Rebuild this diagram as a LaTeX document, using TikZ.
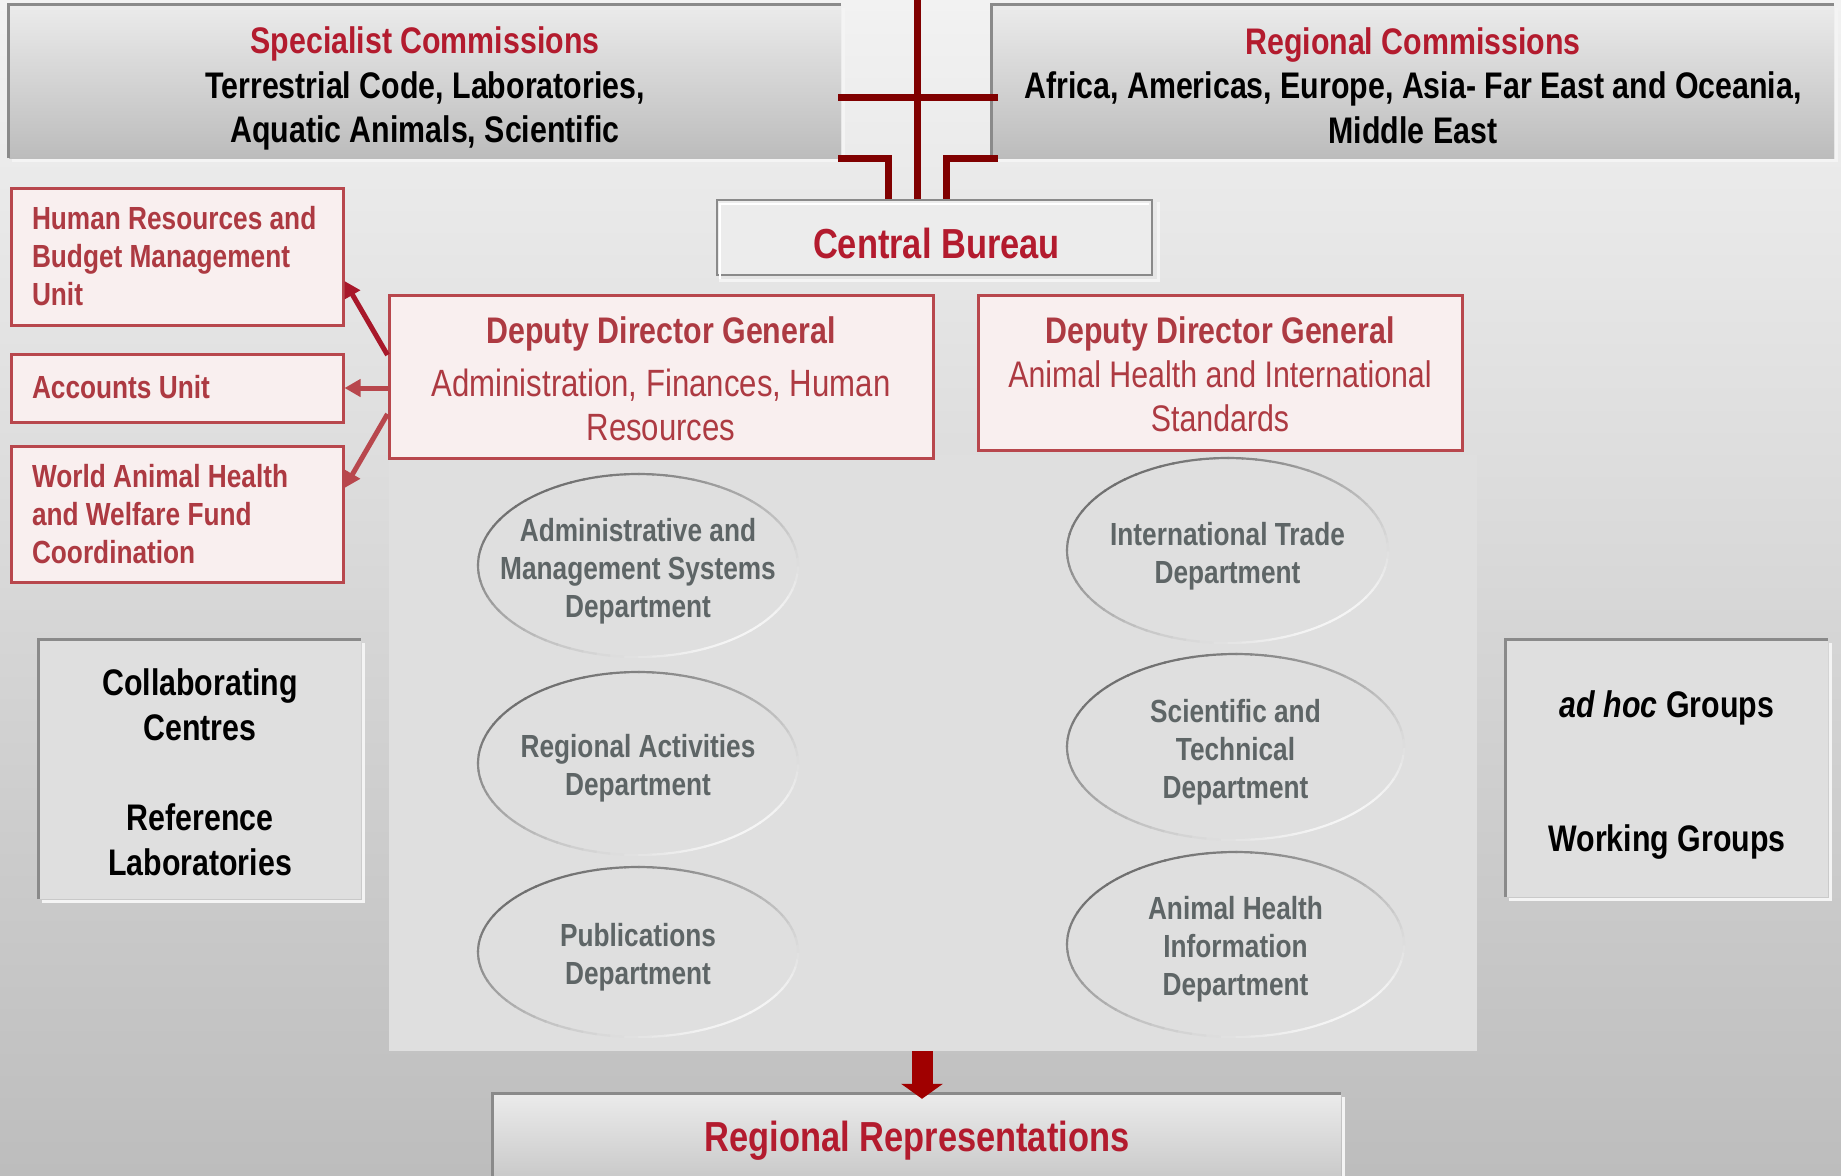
\documentclass[tikz,border=0pt]{standalone}
\usepackage{fontspec}
\setmainfont{Liberation Sans}[FakeStretch=0.82]
\usetikzlibrary{arrows.meta,shapes.geometric}
\definecolor{bgtop}{HTML}{F2F2F2}
\definecolor{bgbot}{HTML}{BDBDBD}
\definecolor{boxtop}{HTML}{EBEBEB}
\definecolor{boxbot}{HTML}{BCBCBC}
\definecolor{crimson}{HTML}{B31B2E}
\definecolor{crossred}{HTML}{800000}
\definecolor{boxred}{HTML}{B8474D}
\definecolor{boxfill}{HTML}{F9EFEF}
\definecolor{boxtext}{HTML}{AD3A42}
\definecolor{arrowdark}{HTML}{A8182A}
\definecolor{panelc}{HTML}{DFDFDF}
\definecolor{elltext}{HTML}{5E6566}
\definecolor{ringdark}{HTML}{707070}
\definecolor{ringlight}{HTML}{F5F5F5}
\definecolor{cbfill}{HTML}{ECECEC}
\definecolor{greybox}{HTML}{DFDFDF}
\definecolor{bevdark}{HTML}{8A8A8A}
\definecolor{bevlight}{HTML}{F4F4F4}
\definecolor{bigred}{HTML}{A00000}
\newcommand\fsz[2]{\fontsize{#1}{#2}\selectfont}
\newcommand\bevel[1]{%
  \draw[bevD] (#1.south west) -- (#1.north west) -- (#1.north east);
  \draw[bevL] ([shift={(2.5,3)}]#1.north east) -- ([shift={(2.5,2.5)}]#1.south east) -- ([shift={(3,2.5)}]#1.south west);}
\newcommand\ringell[3]{%
  \foreach \a in {0,5,...,355}{%
    \pgfmathsetmacro\dk{100*(1+cos(\a+135))/2}%
    \draw[line width=2.2pt, ringdark!\dk!ringlight] ([shift={(\a:#2 and #3)}]#1.center) arc[start angle=\a, end angle=\a+5.6, x radius=#2, y radius=#3];
  }}
\begin{document}
\begin{tikzpicture}[x=1pt,y=-1pt,
  topbox/.style={rectangle, inner sep=0pt, top color=boxtop, bottom color=boxbot},
  toptxt/.style={inner sep=0pt, align=center, font=\bfseries\fsz{37}{44.5}},
  bevD/.style={draw=bevdark, line width=3pt},
  bevL/.style={draw=bevlight, line width=2.5pt},
  cross/.style={draw=crossred, line width=7pt},
  redbox/.style={rectangle, draw=boxred, line width=3pt, fill=boxfill, text=boxtext, font=\bfseries\fsz{32}{38}, minimum width=332pt, inner xsep=21pt, inner ysep=0pt, text width=290pt, align=flush left},
  ddgbox/.style={rectangle, draw=boxred, line width=3pt, fill=boxfill, text=boxtext, font=\fsz{37}{44}, inner sep=0pt, align=center},
  ell/.style={ellipse, inner sep=0pt, fill=panelc},
  elltxt/.style={inner sep=0pt, text=elltext, font=\bfseries\fsz{32}{38}, align=center},
  greyb/.style={rectangle, fill=greybox, inner sep=0pt, minimum width=322pt},
  greytxt/.style={inner sep=0pt, font=\bfseries\fsz{37}{45}, align=center},
  bigtxt/.style={inner sep=0pt, text=crimson, font=\bfseries\fsz{42}{50}},
  larr/.style={draw=boxred, line width=5pt, -{Triangle[length=16pt, width=17pt]}},
  bigarr/.style={draw=bigred, line width=21pt, -{Triangle[length=15pt, width=41pt]}}
]
\useasboundingbox (0,0) rectangle (1841,1175);
\shade[top color=bgtop, bottom color=bgbot] (0,0) rectangle (1841,1175);

% central panel
\node[fill=panelc, minimum width=1088pt, minimum height=596pt, inner sep=0pt] (panel) at (933,753) {};

% top boxes
\node[topbox, minimum width=832pt, minimum height=153pt] (spec) at (425,81.5) {};
\node[toptxt] (spect) at ([shift={(0,7)}]spec.center)
  {\textcolor{crimson}{Specialist Commissions}\\Terrestrial Code, Laboratories,\\Aquatic Animals, Scientific};
\bevel{spec}
\node[topbox, minimum width=842pt, minimum height=153pt] (regc) at (1413,81.5) {};
\node[toptxt] (regct) at ([shift={(0,4)}]regc.center)
  {\textcolor{crimson}{Regional Commissions}\\Africa, Americas, Europe, Asia- Far East and Oceania,\\Middle East};
\bevel{regc}

% central bureau
\node[rectangle, fill=cbfill, draw=bevdark, line width=2.5pt, minimum width=435pt, minimum height=75pt, inner sep=0pt] (cb) at (934.5,237.5) {};
\draw[white, line width=2pt] ([shift={(4,6)}]cb.south west) -- ([shift={(4,5)}]cb.north west) -- ([shift={(-4,5)}]cb.north east);
\draw[bevL] ([shift={(5,3)}]cb.north east) -- ([shift={(5,4)}]cb.south east) -- ([shift={(3,4)}]cb.south west);
\node[bigtxt] (cbt) at ([shift={(2,6)}]cb.center) {Central Bureau};

% cross connectors
\coordinate (ctop) at (917.5,0);
\draw[cross] (ctop) -- (cb.north -| ctop);
\draw[cross] ([shift={(-3,15.5)}]spec.east) -- ([shift={(6,15.5)}]regc.west);
\draw[cross] ([shift={(-3,0)}]spec.south east) -| ([shift={(-46.5,0)}]cb.north);
\draw[cross] ([shift={(6,0)}]regc.south west) -| ([shift={(12,0)}]cb.north);

% deputy director boxes
\node[ddgbox, minimum width=544pt, minimum height=163pt] (ddg1) at (661,376.5) {};
\node[inner sep=0pt, text=boxtext, font=\fsz{37}{44}, align=center] (ddg1t) at ([shift={(0,2)}]ddg1.center)
  {\textbf{Deputy Director General}\\[9pt]{\fsz{38}{44}Administration, Finances, Human}\\{\fsz{38}{44}Resources}};
\node[ddgbox, minimum width=484pt, minimum height=155pt] (ddg2) at (1220,372.5) {};
\node[inner sep=0pt, text=boxtext, font=\fsz{37}{44}, align=center] (ddg2t) at ([shift={(0,1.5)}]ddg2.center)
  {\textbf{Deputy Director General}\\Animal Health and International\\Standards};

% ellipses
\node[ell, minimum width=320pt, minimum height=183pt] (e1) at (638,565.5) {};
\ringell{e1}{160}{91.5}
\node[elltxt] (e1t) at ([shift={(0,6)}]e1.center) {Administrative and\\Management Systems\\Department};
\node[ell, minimum width=320pt, minimum height=183pt] (e2) at (638,763.5) {};
\ringell{e2}{160}{91.5}
\node[elltxt] (e2t) at ([shift={(0,5)}]e2.center) {Regional Activities\\Department};
\node[ell, minimum width=320pt, minimum height=170pt] (e3) at (638,952) {};
\ringell{e3}{160}{85}
\node[elltxt] (e3t) at ([shift={(0,5)}]e3.center) {Publications\\Department};
\node[ell, minimum width=321pt, minimum height=185pt] (e4) at (1227.5,550.5) {};
\ringell{e4}{160.5}{92.5}
\node[elltxt] (e4t) at ([shift={(0,6)}]e4.center) {International Trade\\Department};
\node[ell, minimum width=337pt, minimum height=186pt] (e5) at (1235.5,747) {};
\ringell{e5}{168.5}{93}
\node[elltxt] (e5t) at ([shift={(0,5.5)}]e5.center) {Scientific and\\Technical\\Department};
\node[ell, minimum width=337pt, minimum height=185pt] (e6) at (1235.5,944.5) {};
\ringell{e6}{168.5}{92.5}
\node[elltxt] (e6t) at ([shift={(0,5)}]e6.center) {Animal Health\\Information\\Department};

% left red boxes
\node[redbox, minimum height=137pt] (hr) at (177,256.5) {Human Resources and\\Budget Management\\Unit};
\node[redbox, minimum height=68pt] (acc) at (177,388) {\raisebox{2pt}{Accounts Unit}};
\node[redbox, minimum height=136pt] (wahf) at (177,514) {World Animal Health\\and Welfare Fund\\Coordination};

\draw[larr, draw=arrowdark] ([shift={(0,-21.5)}]ddg1.west) -- ([shift={(0,24.5)}]hr.east);
\draw[larr] (ddg1.west |- acc.east) -- (acc.east);
\draw[larr] ([shift={(0,37.5)}]ddg1.west) -- ([shift={(0,-26)}]wahf.east);

% side grey boxes
\node[greyb, minimum height=259pt] (cc) at (200,769.5) {};
\bevel{cc}
\node[greytxt] (cct) at ([shift={(0,3)}]cc.center) {Collaborating\\Centres\\[45pt]Reference\\Laboratories};
\node[greyb, minimum height=257pt] (grp) at (1667,768.5) {};
\bevel{grp}
\node[greytxt] (grpt) at ([shift={(0,7)}]grp.center) {\textit{ad hoc} Groups\\[89pt]Working Groups};

% regional representations
\node[rectangle, inner sep=0pt, top color=boxtop, bottom color=boxbot!80!white, minimum width=848pt, minimum height=84pt] (rr) at (917,1136) {};
\bevel{rr}
\node[bigtxt] (rrt) at ([shift={(0,5)}]rr.center) {Regional Representations};

\coordinate (ax) at (922,0);
\coordinate (tipc) at ([shift={(0,5)}]rr.north);
\draw[bigarr] (panel.south -| ax) -- (tipc -| ax);
\end{tikzpicture}
\end{document}
